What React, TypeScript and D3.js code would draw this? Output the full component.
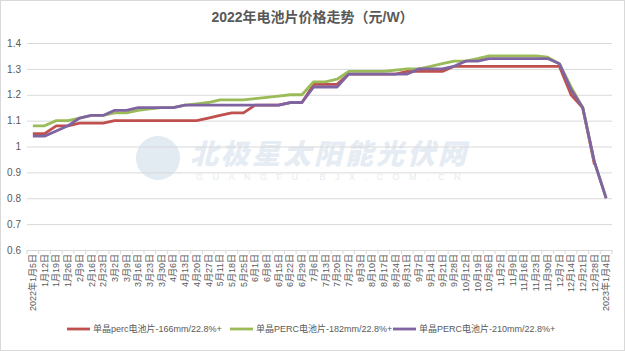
import React, { useEffect, useRef } from "react";
import * as d3 from "d3";

const categories = [
  "2022年1月5日", "1月12日", "1月19日", "1月26日", "2月9日", "2月16日", "2月23日",
  "3月2日", "3月9日", "3月16日", "3月23日", "3月30日", "4月6日", "4月13日", "4月20日",
  "4月27日", "5月11日", "5月18日", "5月25日", "6月1日", "6月8日", "6月15日", "6月22日",
  "6月29日", "7月6日", "7月13日", "7月20日", "7月27日", "8月3日", "8月10日", "8月17日",
  "8月24日", "8月31日", "9月7日", "9月14日", "9月21日", "9月28日", "10月12日", "10月19日",
  "10月26日", "11月2日", "11月9日", "11月16日", "11月23日", "11月30日", "12月7日",
  "12月14日", "12月21日", "12月28日", "2023年1月4日",
];

// 单晶perc -166mm (last week not reported)
const perc166: (number | null)[] = [
  1.05, 1.05, 1.08, 1.08, 1.09, 1.09, 1.09, 1.10, 1.10, 1.10, 1.10, 1.10, 1.10, 1.10, 1.10,
  1.11, 1.12, 1.13, 1.13, 1.16, 1.16, 1.16, 1.17, 1.17, 1.24, 1.24, 1.24, 1.28, 1.28, 1.28,
  1.28, 1.28, 1.29, 1.29, 1.29, 1.29, 1.31, 1.31, 1.31, 1.31, 1.31, 1.31, 1.31, 1.31, 1.31,
  1.31, 1.20, 1.15, 0.93, null,
];

const perc182: (number | null)[] = [
  1.08, 1.08, 1.10, 1.10, 1.11, 1.12, 1.12, 1.13, 1.13, 1.14, 1.145, 1.15, 1.15, 1.16, 1.165,
  1.17, 1.18, 1.18, 1.18, 1.185, 1.19, 1.195, 1.20, 1.20, 1.25, 1.25, 1.26, 1.29, 1.29, 1.29,
  1.29, 1.295, 1.30, 1.30, 1.31, 1.32, 1.33, 1.33, 1.34, 1.35, 1.35, 1.35, 1.35, 1.35, 1.345,
  1.32, 1.23, 1.15, 0.94, 0.80,
];

const perc210: (number | null)[] = [
  1.04, 1.04, 1.06, 1.08, 1.11, 1.12, 1.12, 1.14, 1.14, 1.15, 1.15, 1.15, 1.15, 1.16, 1.16,
  1.16, 1.16, 1.16, 1.16, 1.16, 1.16, 1.16, 1.17, 1.17, 1.23, 1.23, 1.23, 1.28, 1.28, 1.28,
  1.28, 1.28, 1.28, 1.30, 1.30, 1.30, 1.31, 1.33, 1.33, 1.34, 1.34, 1.34, 1.34, 1.34, 1.34,
  1.32, 1.22, 1.15, 0.94, 0.80,
];

const seriesNames = [
  "单晶perc电池片-166mm/22.8%+",
  "单晶PERC电池片-182mm/22.8%+",
  "单晶PERC电池片-210mm/22.8%+",
];
const seriesColors = ["#C0504D", "#9BBB59", "#8064A2"];
const yTicks = [0.6, 0.7, 0.8, 0.9, 1, 1.1, 1.2, 1.3, 1.4];

const W = 625;
const H = 351;
const FONT = "'Liberation Sans', 'Noto Sans CJK SC', sans-serif";

export default function App() {
  const svgRef = useRef<SVGSVGElement | null>(null);

  useEffect(() => {
    const svg = d3.select(svgRef.current);
    svg.selectAll("*").remove();

    const margin = { top: 43, right: 13, bottom: 101, left: 27 };
    const innerW = W - margin.left - margin.right;
    const innerH = H - margin.top - margin.bottom;

    svg.append("rect")
      .attr("x", 0.5).attr("y", 0.5)
      .attr("width", W - 1).attr("height", H - 1)
      .attr("fill", "#fff").attr("stroke", "#d9d9d9");

    // watermark
    const wm = svg.append("g").attr("opacity", 0.9);
    wm.append("circle").attr("cx", 158).attr("cy", 158).attr("r", 22).attr("fill", "#dfe8f1");
    wm.append("text")
      .attr("x", 190).attr("y", 164)
      .style("font-family", "'Noto Sans CJK SC', sans-serif")
      .style("font-size", "28px").style("font-weight", "900").style("font-style", "italic")
      .style("letter-spacing", "3px")
      .attr("fill", "#e3eaf2")
      .text("北极星太阳能光伏网");
    wm.append("text")
      .attr("x", 196).attr("y", 180)
      .style("font-family", FONT).style("font-size", "9px")
      .style("letter-spacing", "9.5px")
      .attr("fill", "#e3eaf2")
      .text("GUANGFU.BJX.COM.CN");

    const g = svg.append("g").attr("transform", `translate(${margin.left},${margin.top})`);

    const x = d3.scaleBand<string>().domain(categories).range([0, innerW]);
    const y = d3.scaleLinear().domain([0.6, 1.4]).range([innerH, 0]);

    g.append("g")
      .call(d3.axisLeft(y).tickValues(yTicks).tickSize(-innerW).tickFormat(d => d3.format("")(+d)))
      .call(a => a.select(".domain").remove())
      .call(a => a.selectAll(".tick line").attr("stroke", "#d9d9d9"))
      .call(a => a.selectAll(".tick text")
        .attr("x", -6)
        .attr("fill", "#595959")
        .style("font-size", "10px")
        .style("font-family", FONT));

    const xAxis = g.append("g")
      .attr("transform", `translate(0,${innerH})`)
      .call(d3.axisBottom(x).tickSize(0).tickSizeOuter(0));
    xAxis.select(".domain").attr("stroke", "#d9d9d9");
    xAxis.selectAll(".tick text")
      .attr("transform", "rotate(-90)")
      .attr("x", -4).attr("y", 0).attr("dy", "0.35em")
      .style("text-anchor", "end")
      .style("font-size", "9px")
      .style("font-family", FONT)
      .attr("fill", "#595959");
    // tick marks between categories
    xAxis.selectAll(".cat-tick")
      .data(d3.range(categories.length + 1))
      .join("line")
      .attr("x1", i => i * x.bandwidth()).attr("x2", i => i * x.bandwidth())
      .attr("y1", 0).attr("y2", 4)
      .attr("stroke", "#d9d9d9");

    const allSeries = [perc166, perc182, perc210];
    const line = d3.line<number | null>()
      .defined(d => d !== null)
      .x((_, i) => x(categories[i])! + x.bandwidth() / 2)
      .y(d => y(d as number));

    allSeries.forEach((vals, k) => {
      g.append("path")
        .attr("d", line(vals))
        .attr("fill", "none")
        .attr("stroke", seriesColors[k])
        .attr("stroke-width", 2.8)
        .attr("stroke-linejoin", "round");
    });

    svg.append("text")
      .attr("x", W / 2).attr("y", 22)
      .attr("text-anchor", "middle")
      .style("font-family", FONT)
      .style("font-size", "14px").style("font-weight", "bold")
      .attr("fill", "#595959")
      .text("2022年电池片价格走势（元/W）");

    const legendX = [67, 230, 393];
    seriesNames.forEach((name, k) => {
      const lg = svg.append("g").attr("transform", `translate(${legendX[k]},329)`);
      lg.append("line").attr("x1", 0).attr("x2", 23).attr("y1", 0).attr("y2", 0)
        .attr("stroke", seriesColors[k]).attr("stroke-width", 2.8);
      lg.append("text")
        .attr("x", 26).attr("y", 0).attr("dy", "0.35em")
        .style("font-family", FONT).style("font-size", "9px")
        .attr("fill", "#595959")
        .text(name);
    });
  }, []);

  return (
    <svg ref={svgRef} width={W} height={H} style={{ position: "absolute", left: 0, top: 0 }} />
  );
}
